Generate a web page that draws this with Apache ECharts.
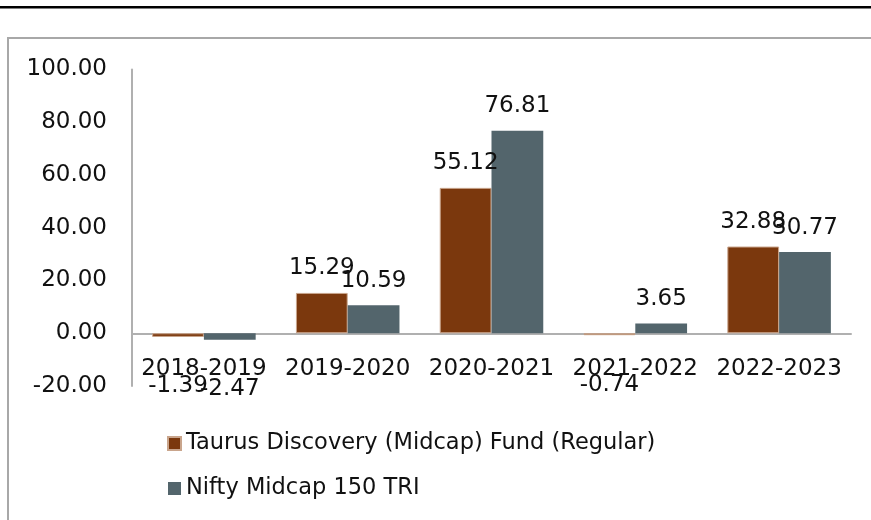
<!DOCTYPE html>
<html>
<head>
    <meta charset="UTF-8">
    <title></title>
    <style>
        html, body { margin: 0; padding: 0; background: #fff; }
        #container { width: 871px; height: 520px; }
    </style>
</head>
<body>
    <div id="container"></div>
    <script src="https://cdn.jsdelivr.net/npm/echarts@6/dist/echarts.min.js"></script>
    <script>
        var years = ['2018-2019', '2019-2020', '2020-2021', '2021-2022', '2022-2023'];
        var fundName = 'Taurus Discovery (Midcap) Fund (Regular)';
        var benchName = 'Nifty Midcap 150 TRI';
        var fundReturns = [-1.39, 15.29, 55.12, -0.74, 32.88];
        var benchReturns = [-2.47, 10.59, 76.81, 3.65, 30.77];

        var font = 'DejaVu Sans';

        // negative bars get their label pushed down below the category text, like excel
        function toItems(arr) {
            return arr.map(function (v) {
                if (v < 0) {
                    return { value: v, label: { position: 'bottom', distance: 38 } };
                }
                return v;
            });
        }

        var myChart = echarts.init(document.getElementById('container'));
        myChart.setOption({
            animation: false,
            textStyle: { fontFamily: font },
            graphic: [
                { type: 'rect', shape: { x: 0, y: 6, width: 871, height: 2.5 }, style: { fill: '#000' } },
                { type: 'rect', shape: { x: 8, y: 38, width: 900, height: 600 }, style: { fill: 'none', stroke: '#a8a8a8', lineWidth: 2 } }
            ],
            grid: { left: 132, right: 20, top: 69.5, bottom: 134 },
            legend: {
                orient: 'vertical',
                left: 162,
                top: 427,
                itemWidth: 13,
                itemHeight: 13,
                itemGap: 22,
                icon: 'rect',
                textStyle: { fontFamily: font, fontSize: 22.5, color: '#111' },
                data: [fundName, benchName]
            },
            xAxis: {
                type: 'category',
                data: years,
                axisLine: { lineStyle: { color: '#b0b0b0', width: 2 } },
                axisTick: { show: false },
                // labels stay at grid bottom, so pull them up under the zero line
                axisLabel: { fontFamily: font, fontSize: 23, color: '#111', margin: -28, interval: 0 }
            },
            yAxis: {
                type: 'value',
                min: -20,
                max: 100,
                interval: 20,
                splitLine: { show: false },
                axisLine: { show: true, lineStyle: { color: '#b0b0b0', width: 2 } },
                axisTick: { show: false },
                axisLabel: {
                    fontFamily: font, fontSize: 23, color: '#111', margin: 25,
                    formatter: function (v) { return v.toFixed(2); }
                }
            },
            series: [
                {
                    name: fundName,
                    type: 'bar',
                    data: toItems(fundReturns),
                    barGap: '0%',
                    barCategoryGap: '28%',
                    itemStyle: { color: '#7b380d', borderColor: '#c9a58c', borderWidth: 1 },
                    label: {
                        show: true, position: 'top', distance: 13,
                        fontFamily: font, fontSize: 23, color: '#111',
                        formatter: function (p) { return p.value.toFixed(2); }
                    }
                },
                {
                    name: benchName,
                    type: 'bar',
                    data: toItems(benchReturns),
                    itemStyle: { color: '#53656c' },
                    label: {
                        show: true, position: 'top', distance: 13,
                        fontFamily: font, fontSize: 23, color: '#111',
                        formatter: function (p) { return p.value.toFixed(2); }
                    }
                }
            ]
        });
    </script>
</body>
</html>
